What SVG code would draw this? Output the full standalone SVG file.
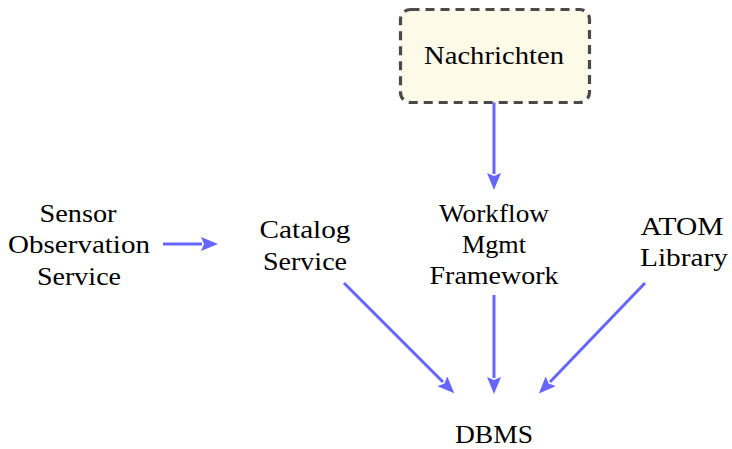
<svg xmlns="http://www.w3.org/2000/svg" width="732" height="449" viewBox="0 0 732 449">
  <style>
    .edge { stroke: #6666ff; stroke-width: 3; fill: none; marker-end: url(#arrow); }
    .box { fill: #fefae8; stroke: #4a4a4a; stroke-width: 3.2; stroke-dasharray: 9 6; }
  </style>
  <defs>
    <marker id="arrow" markerWidth="17" markerHeight="14" refX="1" refY="7" orient="auto" markerUnits="userSpaceOnUse" viewBox="0 0 17 14">
      <path d="M0,0 L17,7 L0,14 L3,7 Z" fill="#6666ff"/>
    </marker>
  </defs>
  <rect width="732" height="449" fill="#fff"/>

  <g id="connectors">
    <line class="edge" x1="163" y1="244" x2="202" y2="244"/>
    <line class="edge" x1="494" y1="94" x2="494" y2="174"/>
    <line class="edge" x1="344" y1="283" x2="443" y2="382"/>
    <line class="edge" x1="494" y1="295" x2="494" y2="378"/>
    <line class="edge" x1="645" y1="283" x2="550" y2="382"/>
  </g>

  <g font-family="Liberation Serif, serif" font-size="26" fill="#000" text-anchor="middle">
    <g id="nachrichten">
      <rect class="box" x="400.5" y="9.5" width="189" height="93" rx="10" ry="10"/>
      <text x="494" y="64" textLength="140" lengthAdjust="spacingAndGlyphs">Nachrichten</text>
    </g>

    <g id="sos">
      <text x="78" y="222" textLength="77" lengthAdjust="spacingAndGlyphs">Sensor</text>
      <text x="79" y="253" textLength="142" lengthAdjust="spacingAndGlyphs">Observation</text>
      <text x="79" y="285" textLength="84" lengthAdjust="spacingAndGlyphs">Service</text>
    </g>

    <g id="catalog">
      <text x="305" y="238" textLength="91" lengthAdjust="spacingAndGlyphs">Catalog</text>
      <text x="305" y="270" textLength="84" lengthAdjust="spacingAndGlyphs">Service</text>
    </g>

    <g id="workflow">
      <text x="494" y="222" textLength="110" lengthAdjust="spacingAndGlyphs">Workflow</text>
      <text x="494" y="253" textLength="64" lengthAdjust="spacingAndGlyphs">Mgmt</text>
      <text x="494" y="284" textLength="129" lengthAdjust="spacingAndGlyphs">Framework</text>
    </g>

    <g id="atom">
      <text x="682" y="235" textLength="83" lengthAdjust="spacingAndGlyphs">ATOM</text>
      <text x="684" y="266" textLength="88" lengthAdjust="spacingAndGlyphs">Library</text>
    </g>

    <g id="dbms">
      <text x="494" y="443" textLength="78" lengthAdjust="spacingAndGlyphs">DBMS</text>
    </g>
  </g>
</svg>
